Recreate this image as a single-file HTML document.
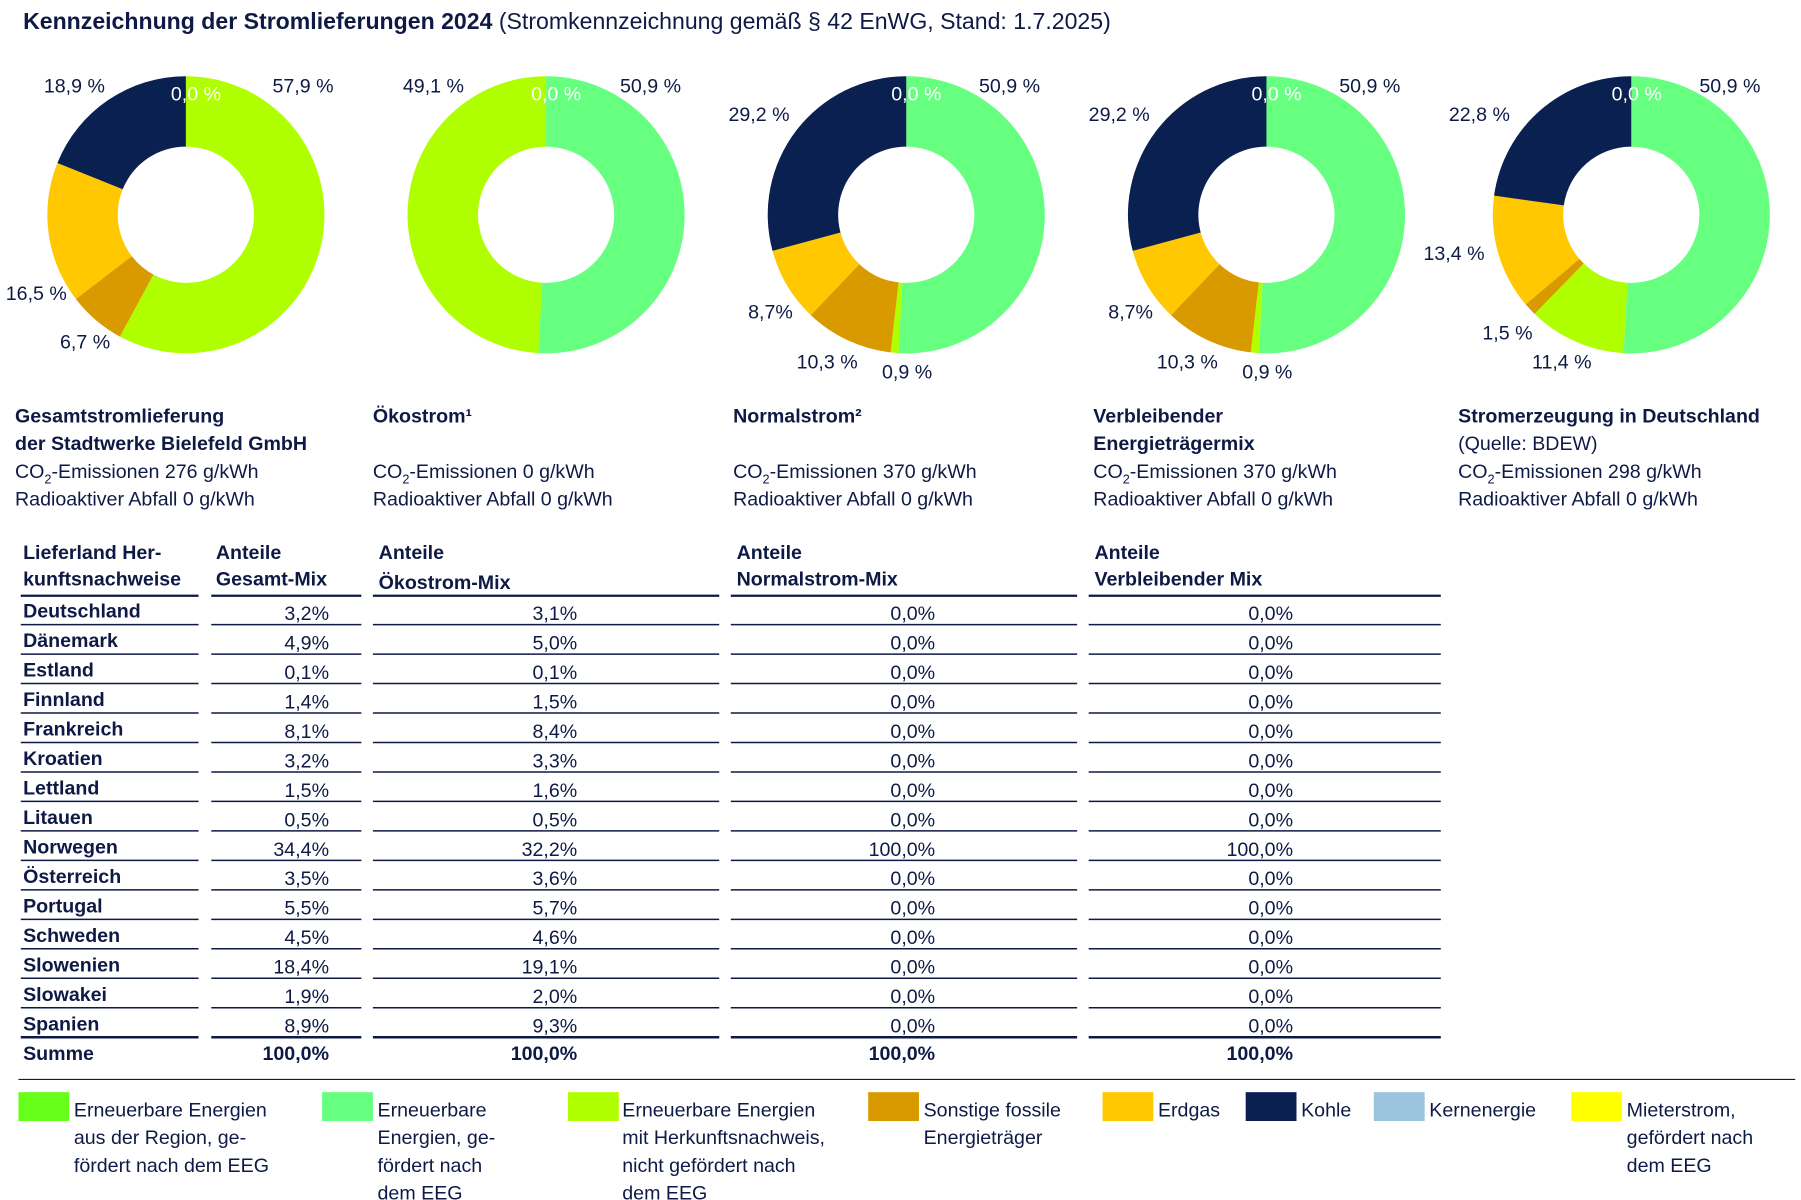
<!DOCTYPE html>
<html><head><meta charset="utf-8"><style>
html,body{margin:0;padding:0;background:#fff;}
svg{display:block;}
text{font-family:"Liberation Sans",sans-serif;fill:#0e1a45;font-size:17px;}
.b{font-weight:bold;}
.w{fill:#fff;}
.r{text-anchor:end;}
</style></head><body>
<svg id="s" width="1801" height="1200" viewBox="0 0 1560 1039.4" xmlns="http://www.w3.org/2000/svg">
<text x="20" y="25" style="font-size:20px"><tspan class="b">Kennzeichnung der Stromlieferungen 2024</tspan> (Stromkennzeichnung gemäß § 42 EnWG, Stand: 1.7.2025)</text>
<g id="donuts"></g>
<!-- donut labels -->
<text x="38" y="80">18,9 %</text><text x="148" y="87" class="w">0,0 %</text><text x="236" y="80">57,9 %</text>
<text x="5" y="260">16,5 %</text><text x="52" y="302">6,7 %</text>
<text x="349" y="80">49,1 %</text><text x="460" y="87" class="w">0,0 %</text><text x="537" y="80">50,9 %</text>
<text x="631" y="105">29,2 %</text><text x="772" y="87" class="w">0,0 %</text><text x="848" y="80">50,9 %</text>
<text x="648" y="276">8,7%</text><text x="690" y="319">10,3 %</text><text x="764" y="328">0,9 %</text>
<text x="943" y="105">29,2 %</text><text x="1084" y="87" class="w">0,0 %</text><text x="1160" y="80">50,9 %</text>
<text x="960" y="276">8,7%</text><text x="1002" y="319">10,3 %</text><text x="1076" y="328">0,9 %</text>
<text x="1255" y="105">22,8 %</text><text x="1396" y="87" class="w">0,0 %</text><text x="1472" y="80">50,9 %</text>
<text x="1233" y="225">13,4 %</text><text x="1284" y="294">1,5 %</text><text x="1327" y="319">11,4 %</text>
<!-- captions -->
<text x="13" y="366" class="b">Gesamtstromlieferung</text>
<text x="13" y="390" class="b">der Stadtwerke Bielefeld GmbH</text>
<text x="13" y="414">CO<tspan dy="5" style="font-size:11px">2</tspan><tspan dy="-5">-Emissionen 276 g/kWh</tspan></text>
<text x="13" y="438">Radioaktiver Abfall 0 g/kWh</text>
<text x="323" y="366" class="b">Ökostrom¹</text>
<text x="323" y="414">CO<tspan dy="5" style="font-size:11px">2</tspan><tspan dy="-5">-Emissionen 0 g/kWh</tspan></text>
<text x="323" y="438">Radioaktiver Abfall 0 g/kWh</text>
<text x="635" y="366" class="b">Normalstrom²</text>
<text x="635" y="414">CO<tspan dy="5" style="font-size:11px">2</tspan><tspan dy="-5">-Emissionen 370 g/kWh</tspan></text>
<text x="635" y="438">Radioaktiver Abfall 0 g/kWh</text>
<text x="947" y="366" class="b">Verbleibender</text>
<text x="947" y="390" class="b">Energieträgermix</text>
<text x="947" y="414">CO<tspan dy="5" style="font-size:11px">2</tspan><tspan dy="-5">-Emissionen 370 g/kWh</tspan></text>
<text x="947" y="438">Radioaktiver Abfall 0 g/kWh</text>
<text x="1263" y="366" class="b">Stromerzeugung in Deutschland</text>
<text x="1263" y="390">(Quelle: BDEW)</text>
<text x="1263" y="414">CO<tspan dy="5" style="font-size:11px">2</tspan><tspan dy="-5">-Emissionen 298 g/kWh</tspan></text>
<text x="1263" y="438">Radioaktiver Abfall 0 g/kWh</text>
<!-- table headers -->
<text x="20" y="484" class="b">Lieferland Her-</text><text x="20" y="507" class="b">kunftsnachweise</text>
<text x="187" y="484" class="b">Anteile</text><text x="187" y="507" class="b">Gesamt-Mix</text>
<text x="328" y="484" class="b">Anteile</text><text x="328" y="510" class="b">Ökostrom-Mix</text>
<text x="638" y="484" class="b">Anteile</text><text x="638" y="507" class="b">Normalstrom-Mix</text>
<text x="948" y="484" class="b">Anteile</text><text x="948" y="507" class="b">Verbleibender Mix</text>
<g id="table"></g>
<line x1="16" y1="935" x2="1555" y2="935" stroke="#0e1a45" stroke-width="1"/>
<!-- legend -->
<rect x="16" y="946" width="44" height="25" fill="#66ff1a"/>
<text x="64" y="967">Erneuerbare Energien</text><text x="64" y="991">aus der Region, ge-</text><text x="64" y="1015">fördert nach dem EEG</text>
<rect x="279" y="946" width="44" height="25" fill="#66ff80"/>
<text x="327" y="967">Erneuerbare</text><text x="327" y="991">Energien, ge-</text><text x="327" y="1015">fördert nach</text><text x="327" y="1039">dem EEG</text>
<rect x="492" y="946" width="44" height="25" fill="#b0ff00"/>
<text x="539" y="967">Erneuerbare Energien</text><text x="539" y="991">mit Herkunftsnachweis,</text><text x="539" y="1015">nicht gefördert nach</text><text x="539" y="1039">dem EEG</text>
<rect x="752" y="946" width="44" height="25" fill="#d99a00"/>
<text x="800" y="967">Sonstige fossile</text><text x="800" y="991">Energieträger</text>
<rect x="955" y="946" width="44" height="25" fill="#ffc800"/>
<text x="1003" y="967">Erdgas</text>
<rect x="1079" y="946" width="44" height="25" fill="#0a2050"/>
<text x="1127" y="967">Kohle</text>
<rect x="1190" y="946" width="44" height="25" fill="#9cc3dc"/>
<text x="1238" y="967">Kernenergie</text>
<rect x="1361" y="946" width="44" height="25" fill="#ffff00"/>
<text x="1409" y="967">Mieterstrom,</text><text x="1409" y="991">gefördert nach</text><text x="1409" y="1015">dem EEG</text>
</svg>
<script>
var NS="http://www.w3.org/2000/svg";
var L="#b0ff00",M="#66ff80",B="#d99a00",Y="#ffc800",N="#0a2050";
var donuts=[
 [161,[[57.9,L],[6.7,B],[16.5,Y],[18.9,N]]],
 [473,[[50.9,M],[49.1,L]]],
 [785,[[50.9,M],[0.9,L],[10.3,B],[8.7,Y],[29.2,N]]],
 [1097,[[50.9,M],[0.9,L],[10.3,B],[8.7,Y],[29.2,N]]],
 [1413,[[50.9,M],[11.4,L],[1.5,B],[13.4,Y],[22.8,N]]]
];
var g=document.getElementById("donuts"),cy=186,R=120,r=59;
function pt(cx,rad,a){var t=a/100*2*Math.PI;return [cx+rad*Math.sin(t),cy-rad*Math.cos(t)];}
donuts.forEach(function(d){var cx=d[0],acc=0;d[1].forEach(function(s){
 var a0=acc,a1=acc+s[0];acc=a1;var lg=(s[0]>50)?1:0;
 var p0=pt(cx,R,a0),p1=pt(cx,R,a1),q1=pt(cx,r,a1),q0=pt(cx,r,a0);
 var p=document.createElementNS(NS,"path");
 p.setAttribute("d","M"+p0+"A"+R+","+R+" 0 "+lg+" 1 "+p1+"L"+q1+"A"+r+","+r+" 0 "+lg+" 0 "+q0+"Z");
 p.setAttribute("fill",s[1]);g.appendChild(p);});});
var rows=[["Deutschland","3,2%","3,1%","0,0%","0,0%"],["Dänemark","4,9%","5,0%","0,0%","0,0%"],["Estland","0,1%","0,1%","0,0%","0,0%"],["Finnland","1,4%","1,5%","0,0%","0,0%"],["Frankreich","8,1%","8,4%","0,0%","0,0%"],["Kroatien","3,2%","3,3%","0,0%","0,0%"],["Lettland","1,5%","1,6%","0,0%","0,0%"],["Litauen","0,5%","0,5%","0,0%","0,0%"],["Norwegen","34,4%","32,2%","100,0%","100,0%"],["Österreich","3,5%","3,6%","0,0%","0,0%"],["Portugal","5,5%","5,7%","0,0%","0,0%"],["Schweden","4,5%","4,6%","0,0%","0,0%"],["Slowenien","18,4%","19,1%","0,0%","0,0%"],["Slowakei","1,9%","2,0%","0,0%","0,0%"],["Spanien","8,9%","9,3%","0,0%","0,0%"],["Summe","100,0%","100,0%","100,0%","100,0%"]];
var cols=[[18,172],[183,313],[323,623],[633,933],[943,1248]],rx=[20,285,500,810,1120];
var t=document.getElementById("table");
function line(x1,x2,y,w){var l=document.createElementNS(NS,"line");l.setAttribute("x1",x1);l.setAttribute("x2",x2);l.setAttribute("y1",y);l.setAttribute("y2",y);l.setAttribute("stroke","#0e1a45");l.setAttribute("stroke-width",w);t.appendChild(l);}
function txt(x,y,s,c){var e=document.createElementNS(NS,"text");e.setAttribute("x",x);e.setAttribute("y",y);if(c)e.setAttribute("class",c);e.textContent=s;t.appendChild(e);}
cols.forEach(function(c){line(c[0],c[1],516,2);});
rows.forEach(function(rw,i){var yl=541+i*25.53;
 var bold=(i==15);
 txt(20,yl-6,rw[0],"b");
 for(var k=1;k<5;k++)txt(rx[k],yl-(bold?6:4),rw[k],bold?"b r":"r");
 if(i<15)cols.forEach(function(c){line(c[0],c[1],yl,i==14?2.2:1.3);});
});
</script>
</body></html>
